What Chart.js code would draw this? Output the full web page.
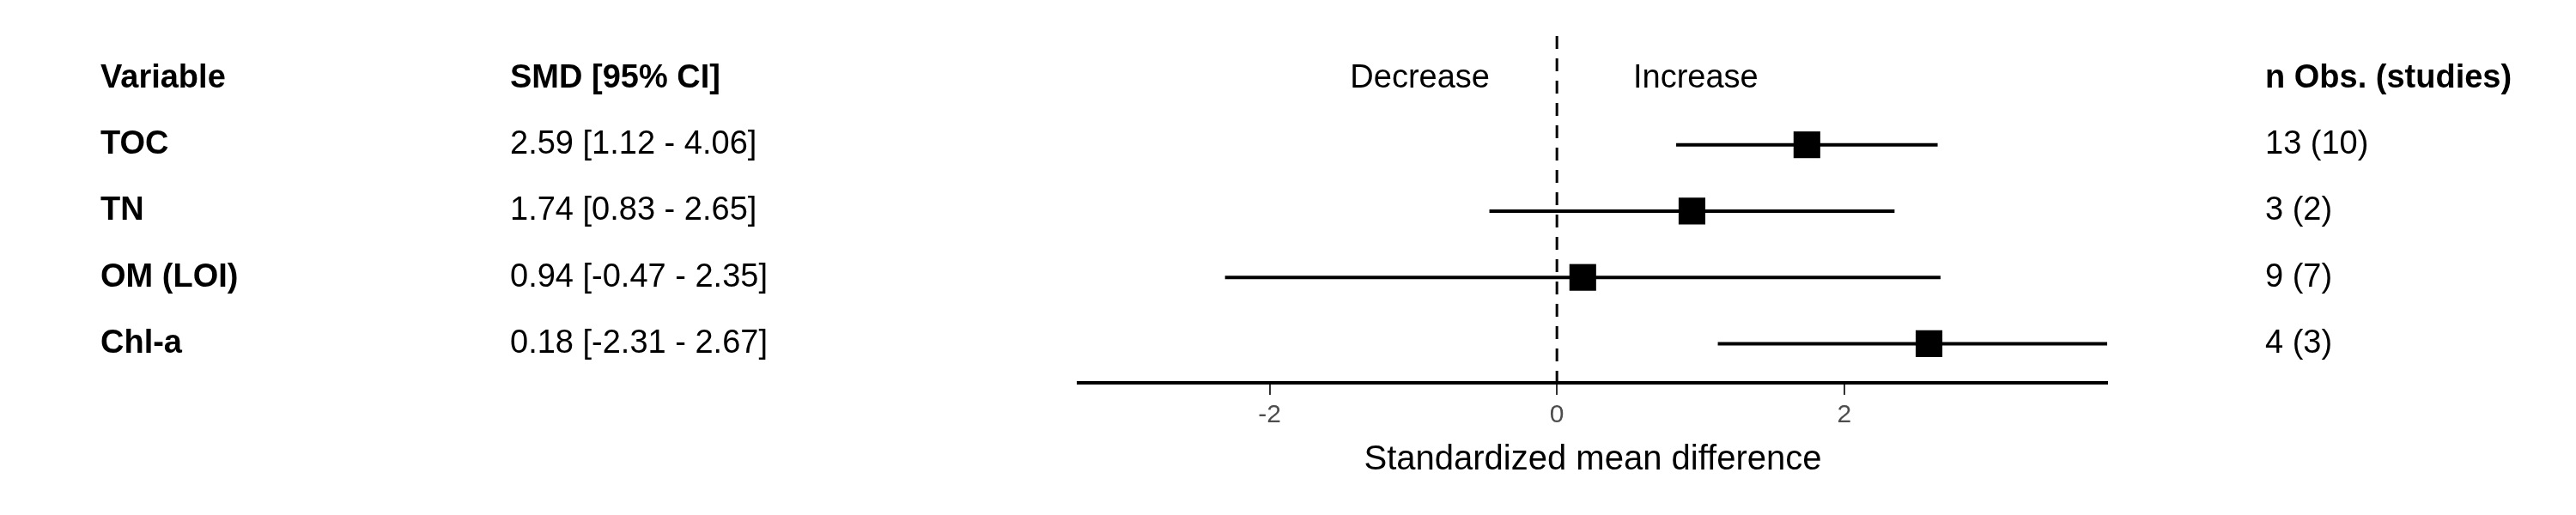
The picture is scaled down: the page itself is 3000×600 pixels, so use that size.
<!DOCTYPE html>
<html><head><meta charset="utf-8">
<script src="https://cdn.jsdelivr.net/npm/chart.js@4"></script>
<style>html,body{margin:0;padding:0;background:#fff}#w{width:3000px;height:600px}</style>
</head><body><div id="w"><canvas id="c"></canvas></div>
<script>
const variables = ["TOC", "TN", "OM (LOI)", "Chl-a"];
const smdLabels = ["2.59 [1.12 - 4.06]", "1.74 [0.83 - 2.65]", "0.94 [-0.47 - 2.35]", "0.18 [-2.31 - 2.67]"];
const nObs = ["13 (10)", "3 (2)", "9 (7)", "4 (3)"];
const estimates = [1.74, 0.94, 0.18, 2.59];
const lower = [0.83, -0.47, -2.31, 1.12];
const upper = [2.65, 2.35, 2.67, 4.06];
const rowY = [3, 2, 1, 0];
const headerY = 4;
const xMin = -3.33, xMax = 3.83;
const xTicks = [-2, 0, 2];

const FONT = "'Liberation Sans', Arial, sans-serif";
const datasets = [];
variables.forEach((v, i) => {
  datasets.push({type:'scatter', data:[{x:lower[i], y:rowY[i]}, {x:upper[i], y:rowY[i]}],
    showLine:true, borderColor:'#000', borderWidth:4, pointRadius:0, clip:{left:false,right:0,top:false,bottom:false}});
});
datasets.push({type:'scatter', data: estimates.map((e,i)=>({x:e, y:rowY[i]})),
  pointStyle:'rect', pointRadius:22, backgroundColor:'#000', borderColor:'#000', borderWidth:0});

const overlay = {
  id:'overlay',
  afterDraw(chart){
    const {ctx, scales:{x, y}, chartArea} = chart;
    ctx.save();
    // dashed zero line
    ctx.strokeStyle = '#000'; ctx.lineWidth = 3; ctx.setLineDash([15, 11]);
    ctx.beginPath(); ctx.moveTo(x.getPixelForValue(0), chartArea.top); ctx.lineTo(x.getPixelForValue(0), chartArea.bottom); ctx.stroke();
    ctx.setLineDash([]);
    ctx.textBaseline = 'middle'; ctx.fillStyle = '#000';
    const hy = y.getPixelForValue(headerY);
    ctx.font = 'bold 38px ' + FONT; ctx.textAlign = 'left';
    ctx.fillText('Variable', 117, hy);
    ctx.fillText('SMD [95% CI]', 594, hy);
    ctx.fillText('n Obs. (studies)', 2638, hy);
    ctx.font = '38px ' + FONT;
    ctx.textAlign = 'right'; ctx.fillText('Decrease', 1735, hy);
    ctx.textAlign = 'left'; ctx.fillText('Increase', 1902, hy);
    variables.forEach((v, i) => {
      const py = y.getPixelForValue(rowY[i]);
      ctx.font = 'bold 38px ' + FONT; ctx.fillText(v, 117, py);
      ctx.font = '38px ' + FONT;
      ctx.fillText(smdLabels[i], 594, py);
      ctx.fillText(nObs[i], 2638, py);
    });
    ctx.restore();
  }
};

new Chart(document.getElementById('c'), {
  data:{datasets},
  options:{
    responsive:true, maintainAspectRatio:false, animation:false,
    layout:{padding:{left:1256, right:546, top:42, bottom:40}},
    plugins:{legend:{display:false}, tooltip:{enabled:false}},
    scales:{
      x:{type:'linear', min:xMin, max:xMax,
        afterBuildTicks(s){ s.ticks = xTicks.map(v=>({value:v})); },
        grid:{display:true, drawOnChartArea:false, drawTicks:true, tickLength:14, color:'#333', lineWidth:2},
        border:{display:true, color:'#000', width:4},
        ticks:{color:'#4d4d4d', font:{size:30, family:FONT}, padding:6},
        title:{display:true, text:'Standardized mean difference', color:'#000', font:{size:40, family:FONT}, padding:{top:4,bottom:0}}
      },
      y:{type:'linear', min:-0.59, max:4.64, display:false}
    }
  },
  plugins:[overlay]
});
</script></body></html>
